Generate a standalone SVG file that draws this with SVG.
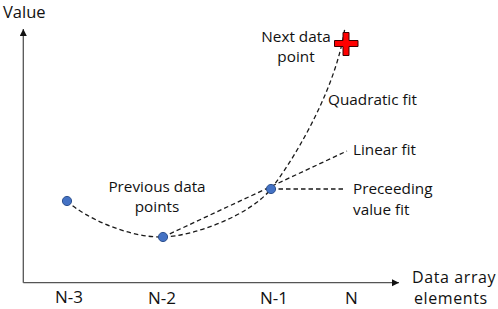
<svg xmlns="http://www.w3.org/2000/svg" width="498" height="309" viewBox="0 0 498 309">
<style>
text{font-family:"Open Sans","Liberation Sans",sans-serif;fill:#111}
.ann{font-size:15.3px}
.ax{font-size:17px}
.axis{stroke:#555;stroke-width:1.3;fill:none}
.fit{stroke:#1a1a1a;stroke-width:1.3;fill:none;stroke-dasharray:4.5 3}
.dot{fill:#4472C4;stroke:#2F528F;stroke-width:1}
</style>
<defs>
<marker id="ah" markerWidth="8" markerHeight="8" refX="7" refY="3.5" orient="auto" markerUnits="userSpaceOnUse">
<path d="M0,0 L7,3.5 L0,7 Z" fill="#111"/>
</marker>
</defs>
<g id="axes">
<line class="axis" x1="23.3" y1="282.7" x2="23.3" y2="29" marker-end="url(#ah)"/>
<line class="axis" x1="23.3" y1="282.7" x2="399" y2="282.7" marker-end="url(#ah)"/>
<text id="y-label" x="3" y="17.8" style="font-size:16.5px">Value</text>
<text id="x-label" style="font-size:16px;letter-spacing:0.6px"><tspan x="412" y="283">Data array</tspan><tspan x="414" y="304">elements</tspan></text>
<text class="ax" x="55" y="303">N-3</text>
<text class="ax" x="148" y="304">N-2</text>
<text class="ax" x="260" y="304">N-1</text>
<text class="ax" x="345" y="304">N</text>
</g>
<g id="connectors">
<path id="quadratic-fit" class="fit" d="M67,201 C85,218 130,238 163,237 C195,236 250,215 271,189 C290,165 336,92 345,27"/>
<path id="linear-fit" class="fit" d="M163,237 L347,151"/>
<path id="preceding-fit" class="fit" d="M271,189 L346,189"/>
</g>
<g id="point-n3"><circle class="dot" cx="67" cy="201" r="4.6"/></g>
<g id="point-n2"><circle class="dot" cx="163" cy="237" r="4.6"/></g>
<g id="point-n1"><circle class="dot" cx="271" cy="189" r="4.6"/></g>
<g id="next-point">
<path d="M343,32.5 h6 v8 h9 v6 h-9 v9 h-6 v-9 h-8.5 v-6 h8.5 Z" fill="#FF0000" stroke="#3a0000" stroke-width="1"/>
</g>
<g id="labels">
<text class="ann" text-anchor="middle"><tspan x="296" y="42">Next data</tspan><tspan x="296" y="62">point</tspan></text>
<text class="ann" x="328" y="105">Quadratic fit</text>
<text class="ann" x="353" y="155">Linear fit</text>
<text class="ann"><tspan x="353" y="194">Preceeding</tspan><tspan x="353" y="215">value fit</tspan></text>
<text class="ann" text-anchor="middle"><tspan x="157" y="192">Previous data</tspan><tspan x="157" y="212">points</tspan></text>
</g>
</svg>
